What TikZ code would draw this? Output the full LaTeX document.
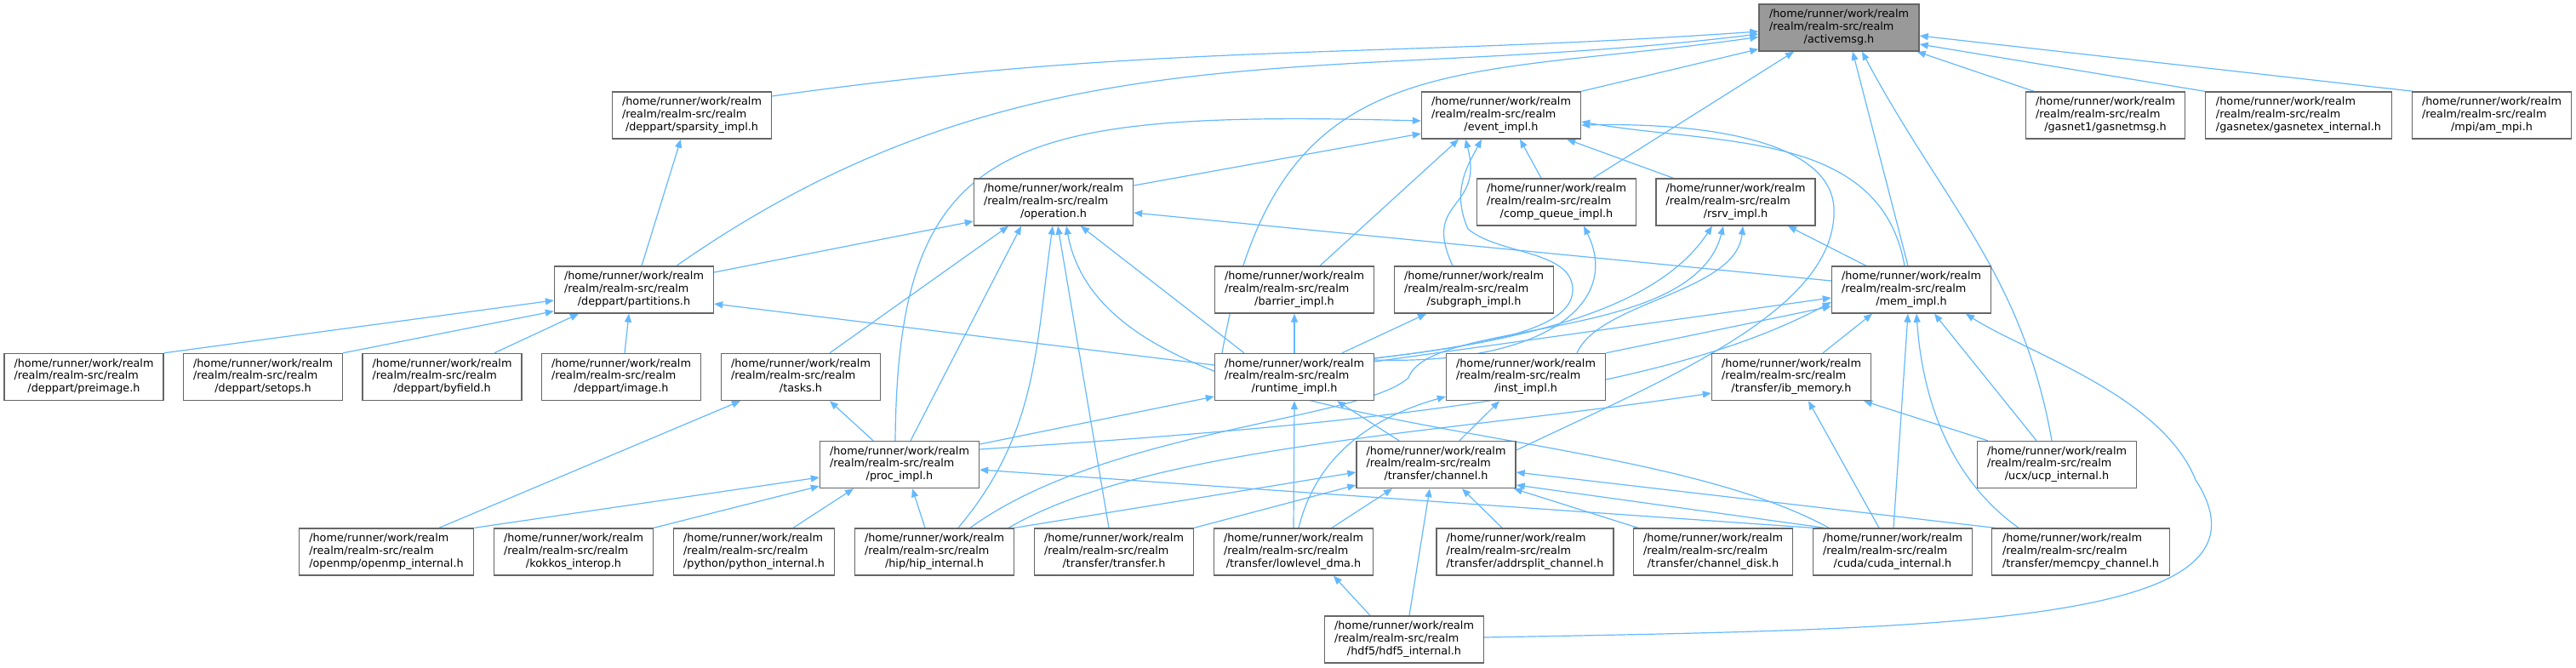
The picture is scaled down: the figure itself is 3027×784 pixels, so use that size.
\documentclass[tikz,border=0pt]{standalone}
\usepackage{fontspec}
\setmainfont{DejaVu Sans}
\usetikzlibrary{arrows.meta,calc}
\definecolor{edgeblue}{HTML}{63B8FF}
\definecolor{boxgray}{HTML}{666666}
\definecolor{amgray}{HTML}{999999}
\newcommand\dxlbl[3]{\begin{tabular}{@{}l@{}}#1\\#2\\\multicolumn{1}{@{}c@{}}{#3}\end{tabular}}
\newcommand\hp[1]{\dxlbl{/home/runner/work/realm}{/realm/realm-src/realm}{#1}}
\pgfdeclarelayer{bg}
\pgfsetlayers{bg,main}
\tikzset{
  box/.style={draw=boxgray, line width=0.7pt, fill=white, minimum height=27.5pt, minimum width=93.5pt, inner sep=0pt, font=\fontsize{6.4}{7.35}\selectfont},
  edge/.style={draw=edgeblue, line width=0.6pt, -{Triangle[length=5pt,width=4pt]}},
}
\begin{document}
\begin{tikzpicture}[x=0.5pt,y=0.5pt]
\useasboundingbox (0,0) rectangle (3027,784);
% row 0
\node[box, fill=amgray, minimum width=94pt] (activemsg) at (2161,751.5) {\hp{/activemsg.h}};
% row 1
\node[box] (sparsity) at (813,648.5) {\hp{/deppart/sparsity\_impl.h}};
\node[box] (event) at (1764,648.5) {\hp{/event\_impl.h}};
\node[box] (gasnetmsg) at (2474,648.5) {\hp{/gasnet1/gasnetmsg.h}};
\node[box, minimum width=109.5pt] (gasnetex) at (2701,648.5) {\hp{/gasnetex/gasnetex\_internal.h}};
\node[box] (ammpi) at (2928,648.5) {\hp{/mpi/am\_mpi.h}};
% row 2
\node[box] (operation) at (1238,546.5) {\hp{/operation.h}};
\node[box] (compq) at (1829,546.5) {\hp{/comp\_queue\_impl.h}};
\node[box] (rsrv) at (2039.5,546.5) {\hp{/rsrv\_impl.h}};
% row 3
\node[box] (partitions) at (745,443.5) {\hp{/deppart/partitions.h}};
\node[box] (barrier) at (1521,443.5) {\hp{/barrier\_impl.h}};
\node[box] (subgraph) at (1732,443.5) {\hp{/subgraph\_impl.h}};
\node[box] (mem) at (2246,443.5) {\hp{/mem\_impl.h}};
% row 4
\node[box] (preimage) at (98.5,341) {\hp{/deppart/preimage.h}};
\node[box] (setops) at (309,341) {\hp{/deppart/setops.h}};
\node[box] (byfield) at (519.5,341) {\hp{/deppart/byfield.h}};
\node[box] (image) at (730,341) {\hp{/deppart/image.h}};
\node[box] (tasks) at (941,341) {\hp{/tasks.h}};
\node[box] (runtime) at (1521,341) {\hp{/runtime\_impl.h}};
\node[box] (inst) at (1793,341) {\hp{/inst\_impl.h}};
\node[box] (ib) at (2105,341) {\hp{/transfer/ib\_memory.h}};
% row 5
\node[box] (proc) at (1057,238) {\hp{/proc\_impl.h}};
\node[box] (channel) at (1687.5,238) {\hp{/transfer/channel.h}};
\node[box] (ucx) at (2417,238) {\hp{/ucx/ucp\_internal.h}};
% row 6
\node[box, minimum width=102.75pt] (openmp) at (454,135.5) {\hp{/openmp/openmp\_internal.h}};
\node[box] (kokkos) at (674,135.5) {\hp{/kokkos\_interop.h}};
\node[box, minimum width=94.7pt] (python) at (886,135.5) {\hp{/python/python\_internal.h}};
\node[box] (hip) at (1098,135.5) {\hp{/hip/hip\_internal.h}};
\node[box] (transfer) at (1309,135.5) {\hp{/transfer/transfer.h}};
\node[box] (lowlevel) at (1520,135.5) {\hp{/transfer/lowlevel\_dma.h}};
\node[box, minimum width=104pt] (addrsplit) at (1792,135.5) {\hp{/transfer/addrsplit\_channel.h}};
\node[box] (channeldisk) at (2013,135.5) {\hp{/transfer/channel\_disk.h}};
\node[box] (cuda) at (2224,135.5) {\hp{/cuda/cuda\_internal.h}};
\node[box, minimum width=104.5pt] (memcpy) at (2445,135.5) {\hp{/transfer/memcpy\_channel.h}};
% row 7
\node[box] (hdf5) at (1650,32.5) {\hp{/hdf5/hdf5\_internal.h}};

\begin{pgfonlayer}{bg}
% into activemsg
\draw[edge] ($(sparsity.east)+(0,22.5)$) to[out=8,in=184] ($(activemsg.west)+(0,-4.5)$);
\draw[edge] ($(partitions.north)+(50,0)$) to[out=35,in=187] ($(activemsg.west)+(0,-7.5)$);
\draw[edge] ($(runtime.north)+(-85,0)$) to[out=80,in=188,looseness=1.3] ($(activemsg.west)+(0,-11)$);
\draw[edge] (event.north east) -- ($(activemsg.south west)+(0,3)$);
\draw[edge] ($(compq.north)+(43,0)$) -- ($(activemsg.south)+(-53,0)$);
\draw[edge] ($(mem.north)+(-4,0)$) -- ($(activemsg.south)+(16,0)$);
\draw[edge] ($(ucx.north)+(-6,0)$) to[out=100,in=-62] ($(activemsg.south)+(27,0)$);
\draw[edge] ($(gasnetmsg.north)+(-84,0)$) -- ($(activemsg.south east)+(-3,0)$);
\draw[edge] (gasnetex.north west) -- ($(activemsg.east)+(0,-19.5)$);
\draw[edge] ($(ammpi.north west)+(2,0)$) -- ($(activemsg.east)+(0,-9.5)$);
% sparsity
\draw[edge] ($(partitions.north)+(9,0)$) -- ($(sparsity.south)+(-13,0)$);
% partitions
\draw[edge] (preimage.north east) -- ($(partitions.west)+(0,-12.5)$);
\draw[edge] (setops.north east) -- ($(partitions.south west)+(0,3)$);
\draw[edge] ($(byfield.north)+(61.5,0)$) -- ($(partitions.south)+(-65,0)$);
\draw[edge] ($(image.north)+(4,0)$) -- ($(partitions.south)+(-6,0)$);
\draw[edge] ($(runtime.west)+(0,14)$) -- ($(partitions.east)+(0,-16.5)$);
% operation
\draw[edge] ($(partitions.east)+(0,20.5)$) -- ($(operation.west)+(0,-22.5)$);
\draw[edge] ($(tasks.north)+(34,0)$) -- ($(operation.south)+(-53,0)$);
\draw[edge] ($(proc.north)+(13,0)$) -- ($(operation.south)+(-38,0)$);
\draw[edge] ($(hip.north)+(28,0)$) to[out=50,in=-98] ($(operation.south)+(-1,0)$);
\draw[edge] ($(transfer.north)+(-6,0)$) -- ($(operation.south)+(5,0)$);
\draw[edge] ($(cuda.north)+(-75,0)$) .. controls (1900,300) and (1300,260) .. ($(operation.south)+(15,0)$);
\draw[edge] ($(runtime.north)+(-59,0)$) -- ($(operation.south)+(32,0)$);
\draw[edge] ($(mem.west)+(0,10.5)$) -- ($(operation.east)+(0,-12.5)$);
% event
\draw[edge] ($(operation.east)+(0,19.5)$) -- ($(event.west)+(0,-21.5)$);
\draw[edge] ($(proc.north)+(-5,0)$) .. controls (1055,620) and (1180,655) .. ($(event.west)+(0,-6.5)$);
\draw[edge] ($(barrier.north)+(30,0)$) -- ($(event.south)+(-50,0)$);
\draw[edge] ($(subgraph.north)+(-25,0)$) to[out=115,in=-75,looseness=1.5] ($(event.south)+(-42,0)$);
\draw[edge] ($(runtime.east)+(0,22)$) .. controls (1760,380) and (1850,400) .. (1848,445) .. controls (1846,490) and (1760,485) .. (1725,515) .. controls (1705,560) and (1725,590) .. ($(event.south)+(-23,0)$);
\draw[edge] ($(compq.north)+(-18,0)$) -- ($(event.south)+(22,0)$);
\draw[edge] ($(rsrv.north west)+(21,0)$) -- ($(event.south east)+(-17,0)$);
\draw[edge] ($(mem.north)+(-8,0)$) to[out=100,in=-10] ($(event.east)+(0,-7.5)$);
\draw[edge] ($(channel.east)+(0,17)$) .. controls (1960,340) and (2160,420) .. (2155,540) .. controls (2150,620) and (2000,640) .. ($(event.east)+(0,-11.5)$);
% comp queue
\draw[edge] ($(runtime.east)+(0,20)$) .. controls (1820,355) and (1905,430) .. ($(compq.south)+(32,0)$);
% rsrv
\draw[edge] ($(mem.north west)+(41,0)$) -- ($(rsrv.south)+(61.5,0)$);
\draw[edge] ($(runtime.east)+(0,22)$) .. controls (1850,390) and (1960,440) .. ($(rsrv.south)+(-27.5,0)$);
\draw[edge] ($(inst.north)+(60,0)$) .. controls (1880,430) and (2040,440) .. ($(rsrv.south)+(8.5,0)$);
\draw[edge] ($(hip.north)+(42,0)$) .. controls (1300,280) and (1600,290) .. (1655,340) .. controls (1680,410) and (1990,380) .. ($(rsrv.south)+(-14.5,0)$);
% mem
\draw[edge] ($(runtime.east)+(0,18)$) -- ($(mem.west)+(0,-9.5)$);
\draw[edge] (inst.north east) -- ($(mem.west)+(0,-19.5)$);
\draw[edge] ($(proc.east)+(0,18)$) .. controls (1600,285) and (1950,320) .. ($(mem.west)+(0,-14.5)$);
\draw[edge] ($(ib.north)+(37,0)$) -- ($(mem.south)+(-46,0)$);
\draw[edge] ($(cuda.north)+(1,0)$) -- ($(mem.south)+(-4,0)$);
\draw[edge] ($(memcpy.north)+(-73,0)$) .. controls (2300,215) and (2260,300) .. ($(mem.south)+(6,0)$);
\draw[edge] ($(ucx.north)+(-24,0)$) -- ($(mem.south)+(27,0)$);
\draw[edge] ($(hdf5.east)+(0,2.5)$) .. controls (2300,45) and (2690,50) .. (2580,220) .. controls (2540,320) and (2380,370) .. ($(mem.south)+(64,0)$);
% barrier / subgraph
\draw[edge] (runtime.north) -- (barrier.south);
\draw[edge] ($(runtime.north)+(56,0)$) -- ($(subgraph.south)+(-56,0)$);
% runtime
\draw[edge] ($(proc.east)+(0,24)$) -- ($(runtime.west)+(0,-23)$);
\draw[edge] ($(channel.north)+(-43.5,0)$) -- ($(runtime.south)+(50,0)$);
\draw[edge] (lowlevel.north) -- (runtime.south);
% inst
\draw[edge] ($(channel.north)+(27.5,0)$) -- ($(inst.south)+(-31,0)$);
\draw[edge] ($(lowlevel.north)+(6,0)$) .. controls (1545,240) and (1600,290) .. ($(inst.west)+(0,-23)$);
% ib memory
\draw[edge] ($(hip.north east)+(-7,0)$) .. controls (1350,260) and (1700,275) .. ($(ib.west)+(0,-19)$);
\draw[edge] ($(cuda.north)+(-16,0)$) -- ($(ib.south)+(20,0)$);
\draw[edge] ($(ucx.north west)+(13,0)$) -- ($(ib.south)+(85,0)$);
% tasks
\draw[edge] ($(proc.north)+(-31,0)$) -- ($(tasks.south)+(34,0)$);
\draw[edge] ($(openmp.north)+(62,0)$) -- ($(tasks.south)+(-71,0)$);
% proc
\draw[edge] (openmp.north east) -- ($(proc.west)+(0,-15)$);
\draw[edge] (kokkos.north east) -- ($(proc.south west)+(0,3)$);
\draw[edge] ($(python.north)+(46,0)$) -- ($(proc.south)+(-54,0)$);
\draw[edge] ($(hip.north)+(-11,0)$) -- ($(proc.south)+(15,0)$);
\draw[edge] (cuda.north west) -- ($(proc.east)+(0,-6)$);
% channel
\draw[edge] (hip.north east) -- ($(channel.west)+(0,-9)$);
\draw[edge] (transfer.north east) -- ($(channel.west)+(0,-24)$);
\draw[edge] ($(lowlevel.north)+(45,0)$) -- ($(channel.south)+(-51.5,0)$);
\draw[edge] ($(hdf5.north)+(6,0)$) -- ($(channel.south)+(-7.5,0)$);
\draw[edge] ($(addrsplit.north)+(-27,0)$) -- ($(channel.south)+(30.5,0)$);
\draw[edge] ($(channeldisk.north west)+(6,0)$) -- ($(channel.south east)+(-3,0)$);
\draw[edge] ($(cuda.north)+(-80,0)$) -- ($(channel.east)+(0,-24)$);
\draw[edge] ($(memcpy.north west)+(4,0)$) -- ($(channel.east)+(0,-9)$);
% lowlevel
\draw[edge] ($(hdf5.north)+(-40,0)$) -- ($(lowlevel.south)+(47,0)$);
\end{pgfonlayer}
\end{tikzpicture}
\end{document}
